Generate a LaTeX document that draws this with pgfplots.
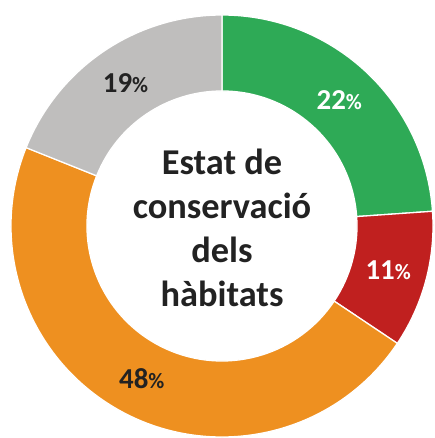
\documentclass[border=0pt]{standalone}
\usepackage{pgfplots}
\pgfplotsset{compat=1.18}
\usepackage{pgfplotstable}
\usepackage{fontspec}
\setmainfont{Carlito}
\definecolor{cgreen}{HTML}{2EAA56}
\definecolor{cred}{HTML}{C0201F}
\definecolor{corange}{HTML}{EE9020}
\definecolor{cgray}{HTML}{BFBEBD}
\definecolor{cdark}{HTML}{222222}
% share = drawn size of the slice (degrees of the ring as drawn), label = printed percentage
\pgfplotstableread{
share label fill txt
86.0  22 cgreen  white
37.8  11 cred    white
168.0 48 corange cdark
68.2  19 cgray   cdark
}\data
\begin{document}
\begin{tikzpicture}
\begin{axis}[
  x=1bp, y=1bp,
  xmin=-222, xmax=213, ymin=-212, ymax=226,
  hide axis, scale only axis, clip=false,
]
\coordinate (bl) at (axis cs:-222,-212);
\coordinate (tr) at (axis cs:213,226);
\gdef\cum{90}
\foreach \i in {0,...,3} {
  \pgfplotstablegetelem{\i}{share}\of\data \let\sh\pgfplotsretval
  \pgfplotstablegetelem{\i}{label}\of\data \let\lb\pgfplotsretval
  \pgfplotstablegetelem{\i}{fill}\of\data \let\fc\pgfplotsretval
  \pgfplotstablegetelem{\i}{txt}\of\data \let\tc\pgfplotsretval
  \pgfmathsetmacro\aa{\cum}
  \pgfmathsetmacro\ab{\cum-\sh}
  \pgfmathsetmacro\am{(\aa+\ab)/2}
  \pgfmathsetmacro\lx{172*cos(\am)}
  \pgfmathsetmacro\ly{172*sin(\am)}
  \xdef\cum{\ab}
  \edef\temp{\noexpand\fill[\fc, draw=white, line width=1.3pt, line join=round]
    (axis cs:0,0) ++(\aa:211bp) arc[start angle=\aa, end angle=\ab, radius=211bp]
    -- ++(\ab:-76bp) arc[start angle=\ab, end angle=\aa, radius=135bp] -- cycle;
    \noexpand\node[text=\tc, font=\noexpand\bfseries\noexpand\fontsize{29}{32}\noexpand\selectfont, inner sep=0pt]
    at (axis cs:\lx,\ly) {\lb{\noexpand\fontsize{22}{24}\noexpand\selectfont\noexpand\%}};}
  \temp
}
\node[align=center, text=cdark, font=\bfseries\fontsize{36.5}{44}\selectfont, inner sep=0pt]
  at (axis cs:0,-2) {Estat de\\conservació\\dels\\hàbitats};
\end{axis}
\pgfresetboundingbox
\useasboundingbox (bl) rectangle (tr);
\end{tikzpicture}
\end{document}
